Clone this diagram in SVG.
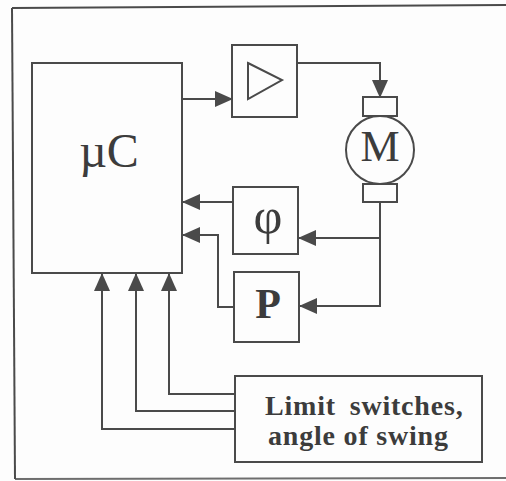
<svg xmlns="http://www.w3.org/2000/svg" width="506" height="481" viewBox="0 0 506 481">
<defs>
<style>
.box{fill:none;stroke:#4a4a4a;stroke-width:2}
.wbox{fill:#fdfdfd;stroke:#4a4a4a;stroke-width:2}
.ln{fill:none;stroke:#4a4a4a;stroke-width:2}
.t{font-family:"Liberation Serif","Times New Roman",serif;fill:#3c3c3c}
.b{font-weight:bold}
</style>
<marker id="ah" markerUnits="userSpaceOnUse" markerWidth="18" markerHeight="16" viewBox="0 0 18 16" refX="17" refY="8" orient="auto">
<path d="M0,0 L18,8 L0,16 z" fill="#4a4a4a"/>
</marker>
</defs>
<rect width="506" height="481" fill="#fdfdfd"/>
<g id="frame">
<path class="ln" d="M12,8 L506,5"/>
<path class="ln" d="M12,8 L15,479"/>
<path class="ln" d="M15,479 L506,478" stroke-opacity="0.8"/>
</g>
<g id="connectors">
<path class="ln" d="M182,99 H232" marker-end="url(#ah)"/>
<path class="ln" d="M297,63 H380 V97" marker-end="url(#ah)"/>
<path class="ln" d="M380,202 V306 H300" marker-end="url(#ah)"/>
<path class="ln" d="M380,238 H299" marker-end="url(#ah)"/>
<path class="ln" d="M233,202 H183" marker-end="url(#ah)"/>
<path class="ln" d="M234,307 H218 V235 H183" marker-end="url(#ah)"/>
<path class="ln" d="M235,394 H169 V274" marker-end="url(#ah)"/>
<path class="ln" d="M235,411 H136 V274" marker-end="url(#ah)"/>
<path class="ln" d="M235,429 H102 V274" marker-end="url(#ah)"/>
</g>
<g id="uc">
<rect class="box" x="32" y="63" width="150" height="210"/>
<text class="t" x="109" y="167" font-size="48" text-anchor="middle">µC</text>
</g>
<g id="amplifier">
<rect class="box" x="232" y="45" width="65" height="72"/>
<path class="ln" d="M248,63 L282,80 L248,99 z"/>
</g>
<g id="motor">
<rect class="wbox" x="363" y="97" width="34" height="19"/>
<rect class="wbox" x="363" y="184" width="34" height="18"/>
<circle class="wbox" cx="380" cy="150" r="34"/>
<text class="t" x="380" y="161" font-size="44" text-anchor="middle">M</text>
</g>
<g id="phi">
<rect class="box" x="233" y="187" width="65" height="67"/>
<text class="t" x="268" y="233" font-size="50" text-anchor="middle">φ</text>
</g>
<g id="p">
<rect class="box" x="234" y="272" width="65" height="70"/>
<text class="t b" x="268" y="318" font-size="42" text-anchor="middle">P</text>
</g>
<g id="limit">
<rect class="box" x="235" y="376" width="247" height="86"/>
<text class="t b" x="265" y="415" font-size="28" letter-spacing="0.8" word-spacing="6">Limit switches,</text>
<text class="t b" x="268" y="445" font-size="28" letter-spacing="0.8">angle of swing</text>
</g>
</svg>
